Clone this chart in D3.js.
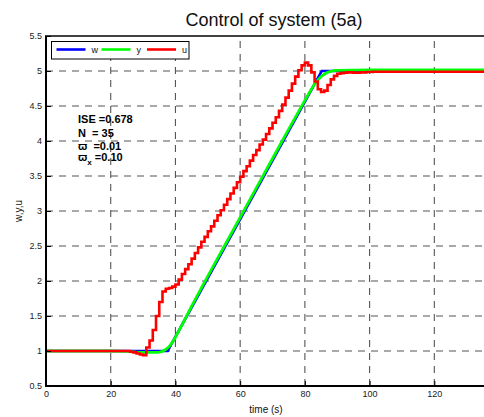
<!DOCTYPE html>
<html><head><meta charset="utf-8">
<script src="https://cdn.jsdelivr.net/npm/d3@7"></script>
<style>body{margin:0;background:#fff}svg{display:block}text{font-family:"Liberation Sans",Arial,sans-serif;white-space:pre}</style>
</head><body>
<svg id="c" width="484" height="417"></svg>
<script>
// ---- data ----
const xTicks = [0, 20, 40, 60, 80, 100, 120];
const yTicks = [0.5, 1, 1.5, 2, 2.5, 3, 3.5, 4, 4.5, 5, 5.5];
const seriesNames = ["w", "y", "u"];
// reference w
const wTime = [0, 37.6, 85.2, 140];
const wVal  = [1, 1, 5, 5];
// output y
const yTime = [0, 20, 25, 28, 31, 34, 35, 36, 37, 38, 39, 40, 42, 45, 50, 55, 60, 65, 70, 75, 80, 82, 83, 84, 85, 86, 87, 88, 89, 90, 100, 140];
const yVal  = [1, 1, 0.995, 0.985, 0.98, 0.98, 0.985, 0.995, 1.02, 1.06, 1.12, 1.2, 1.37, 1.64, 2.07, 2.49, 2.91, 3.33, 3.75, 4.17, 4.58, 4.74, 4.81, 4.87, 4.92, 4.955, 4.98, 4.995, 5.005, 5.01, 5.015, 5.015];
// control u, sampled every 1 s from t = 0
const uStart = 0, uStep = 1;
const uVal = [
  1,1,1,1,1,1,1,1,1,1, 1,1,1,1,1,1,1,1,1,1, 1,1,1,1,1,           // 0-24
  1,0.99,0.98,0.965,0.95, 0.94,1.05,1.15,1.3,1.5,                // 25-34
  1.7,1.85,1.89,1.9,1.92,                                        // 35-39
  1.95,2.02,2.1,2.17,2.24, 2.32,2.4,2.48,2.56,2.63,              // 40-49
  2.71,2.78,2.86,2.94,3.01, 3.09,3.17,3.25,3.33,3.41,            // 50-59
  3.49,3.57,3.64,3.72,3.8, 3.87,3.95,4.02,4.1,4.18,              // 60-69
  4.26,4.34,4.43,4.52,4.62, 4.72,4.82,4.92,5.01,5.08,            // 70-79
  5.12,5.08,4.98,4.85,4.74, 4.7,4.72,4.8,4.88,4.93,              // 80-89
  4.96,4.97,4.975,4.98,4.98, 4.975,4.975,4.98,4.98,4.985,        // 90-99
  4.985,4.99,4.99,4.99,4.99, 4.99,4.99,4.99,4.99,4.99,           // 100-109
  4.99,4.99,4.99,4.99,4.99, 4.99,4.99,4.99,4.99,4.99,            // 110-119
  4.99,4.99,4.99,4.99,4.99, 4.99,4.99,4.99,4.99,4.99,            // 120-129
  4.99,4.99,4.99,4.99,4.99, 4.99,4.99,4.99,4.99,4.99,4.99        // 130-140
];
const annotations = ["ISE =0.678", "N  = 35", "\u03D6  =0.01", "\u03D6"];

// ---- layout ----
const svg = d3.select("#c");
const L = 46, B = 386, T = 36;
const x = d3.scaleLinear().domain([0, 140]).range([L, L + 140 * 3.236]);
const y = d3.scaleLinear().domain([0.5, 5.5]).range([B, T]);
const R = x(140);
const colors = {w: "#0000ff", y: "#00ff00", u: "#ff0000"};

// grid
const g = svg.append("g");
g.selectAll(".gx").data(xTicks.filter(d => d > 0).concat([140])).enter().append("line")
  .attr("x1", d => x(d)).attr("x2", d => x(d)).attr("y1", B).attr("y2", T)
  .attr("stroke", "#555").attr("stroke-width", 1.1).attr("stroke-dasharray", "7,6");
g.selectAll(".gy").data(yTicks.filter(d => d > 0.5 && d < 5.5)).enter().append("line")
  .attr("x1", L).attr("x2", R).attr("y1", d => y(d)).attr("y2", d => y(d))
  .attr("stroke", "#555").attr("stroke-width", 1.1).attr("stroke-dasharray", "7,6");

// lines
const wData = wTime.map((t, i) => [t, wVal[i]]);
const yData = yTime.map((t, i) => [t, yVal[i]]);
const uData = uVal.map((v, i) => [uStart + i * uStep, v]);
const line = d3.line().x(d => x(d[0])).y(d => y(d[1]));
const stepLine = d3.line().x(d => x(d[0])).y(d => y(d[1])).curve(d3.curveStepAfter);
svg.append("path").attr("d", line(wData)).attr("fill", "none").attr("stroke", colors.w).attr("stroke-width", 2.6);
svg.append("path").attr("d", line(yData)).attr("fill", "none").attr("stroke", colors.y).attr("stroke-width", 2.8);
svg.append("path").attr("d", stepLine(uData)).attr("fill", "none").attr("stroke", colors.u).attr("stroke-width", 2.6).attr("stroke-linejoin", "miter");

// axes
const yAxis = d3.axisLeft(y).tickValues(yTicks).tickSize(-5).tickPadding(4).tickFormat(d3.format("~g"));
const yA = svg.append("g").attr("transform", `translate(${L},0)`).call(yAxis);
yA.select(".domain").remove();
yA.selectAll("text").attr("font-size", 9).attr("fill", "#222").attr("font-family", "Liberation Sans, Arial, sans-serif");
yA.selectAll("line").attr("stroke", "#000");
const xAxis = d3.axisBottom(x).tickValues(xTicks).tickSize(-5).tickPadding(5).tickFormat(d3.format("d"));
const xA = svg.append("g").attr("transform", `translate(0,${B})`).call(xAxis);
xA.select(".domain").remove();
xA.selectAll("text").attr("font-size", 9).attr("fill", "#222").attr("font-family", "Liberation Sans, Arial, sans-serif");
xA.selectAll("line").attr("stroke", "#000");

svg.append("line").attr("x1", L).attr("x2", L).attr("y1", T).attr("y2", B + 1).attr("stroke", "#000").attr("stroke-width", 2);
svg.append("line").attr("x1", L - 1).attr("x2", R).attr("y1", B).attr("y2", B).attr("stroke", "#000").attr("stroke-width", 2);
svg.append("line").attr("x1", L - 1).attr("x2", R).attr("y1", T).attr("y2", T).attr("stroke", "#000").attr("stroke-width", 1.5);

// labels
svg.append("text").attr("x", 274).attr("y", 26).attr("text-anchor", "middle").attr("font-size", 18).attr("fill", "#111").text("Control of system (5a)");
svg.append("text").attr("x", 266).attr("y", 413).attr("text-anchor", "middle").attr("font-size", 10).attr("fill", "#111").text("time (s)");
svg.append("text").attr("transform", "translate(22,211) rotate(-90)").attr("text-anchor", "middle").attr("font-size", 10).attr("fill", "#111").text("w,y,u");

// legend
const lg = svg.append("g");
lg.append("rect").attr("x", 51.5).attr("y", 41.5).attr("width", 137.5).attr("height", 17.5).attr("fill", "#fff").attr("stroke", "#000").attr("stroke-width", 1);
const legX = [56.5, 101.5, 147];
seriesNames.forEach((n, i) => {
  lg.append("line").attr("x1", legX[i]).attr("x2", legX[i] + 29).attr("y1", 49.5).attr("y2", 49.5).attr("stroke", colors[n]).attr("stroke-width", 2.6);
  lg.append("text").attr("x", legX[i] + 35).attr("y", 53).attr("font-size", 9).attr("fill", "#111").text(n);
});

// annotations
const an = svg.append("g").attr("font-weight", "bold").attr("font-size", 11).attr("fill", "#000");
an.append("text").attr("x", 78).attr("y", 123).text(annotations[0]);
an.append("text").attr("x", 78).attr("y", 137).text(annotations[1]);
an.append("text").attr("x", 78).attr("y", 150).text(annotations[2]);
const t4 = an.append("text").attr("x", 78).attr("y", 161);
t4.append("tspan").text(annotations[3]);
t4.append("tspan").attr("font-size", 8).attr("dy", 4).text("x");
t4.append("tspan").attr("dy", -4).text(" =0.10");
</script>
</body></html>
